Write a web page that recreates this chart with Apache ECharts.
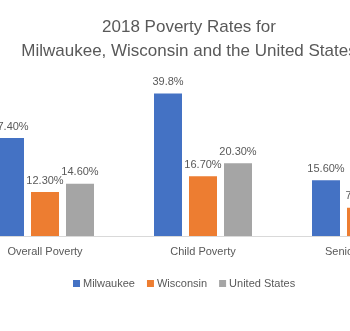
<!DOCTYPE html>
<html><head><meta charset="utf-8">
<script src="https://cdn.jsdelivr.net/npm/echarts@6/dist/echarts.min.js"></script>
<style>html,body{margin:0;padding:0;background:#fff;overflow:hidden;width:350px;height:331px}#c{width:474px;height:331px;margin-left:-34px}</style>
</head><body><div id="c"></div>
<script>
var categories = ["Overall Poverty", "Child Poverty", "Senior Poverty"];
var seriesNames = ["Milwaukee", "Wisconsin", "United States"];
var milwaukee = [27.4, 39.8, 15.6];
var wisconsin = [12.3, 16.7, 7.9];
var unitedStates = [14.6, 20.3, 9.7];
var milwaukeeLabels = ["27.40%", "39.8%", "15.60%"];
var wisconsinLabels = ["12.30%", "16.70%", "7.90%"];
var unitedStatesLabels = ["14.60%", "20.30%", "9.70%"];
var colors = ["#4472C4", "#ED7D31", "#A5A5A5"];

var font = "'Liberation Sans', Arial, sans-serif";
function mk(name, vals, labels, color) {
  return {
    name: name, type: 'bar', barWidth: 28, barGap: '25%',
    itemStyle: {color: color},
    data: vals,
    label: {show: true, position: 'top', distance: 6, color: '#595959', fontSize: 11, fontFamily: font,
      formatter: function (p) { return labels[p.dataIndex]; }}
  };
}
var chart = echarts.init(document.getElementById('c'));
chart.setOption({
  animation: false,
  title: {
    text: '2018 Poverty Rates for\nMilwaukee, Wisconsin and the United States',
    left: 218, top: 10, textAlign: 'center',
    textStyle: {color: '#595959', fontSize: 17, fontWeight: 'normal', fontFamily: font, lineHeight: 24}
  },
  legend: {
    data: seriesNames, left: 102, top: 273, orient: 'horizontal',
    itemWidth: 7, itemHeight: 7, itemGap: 12, icon: 'rect',
    textStyle: {color: '#595959', fontSize: 11, fontFamily: font, padding: [0, 0, 0, -2]}
  },
  grid: {left: 0, right: 0, top: 75, height: 161, containLabel: false},
  xAxis: {
    type: 'category', data: categories,
    axisLine: {lineStyle: {color: '#d9d9d9'}},
    axisTick: {show: false},
    axisLabel: {color: '#595959', fontSize: 11, fontFamily: font, margin: 10, interval: 0}
  },
  yAxis: {type: 'value', min: 0, max: 45, show: false, splitLine: {show: false}},
  series: [
    mk(seriesNames[0], milwaukee, milwaukeeLabels, colors[0]),
    mk(seriesNames[1], wisconsin, wisconsinLabels, colors[1]),
    mk(seriesNames[2], unitedStates, unitedStatesLabels, colors[2])
  ]
});
</script></body></html>
